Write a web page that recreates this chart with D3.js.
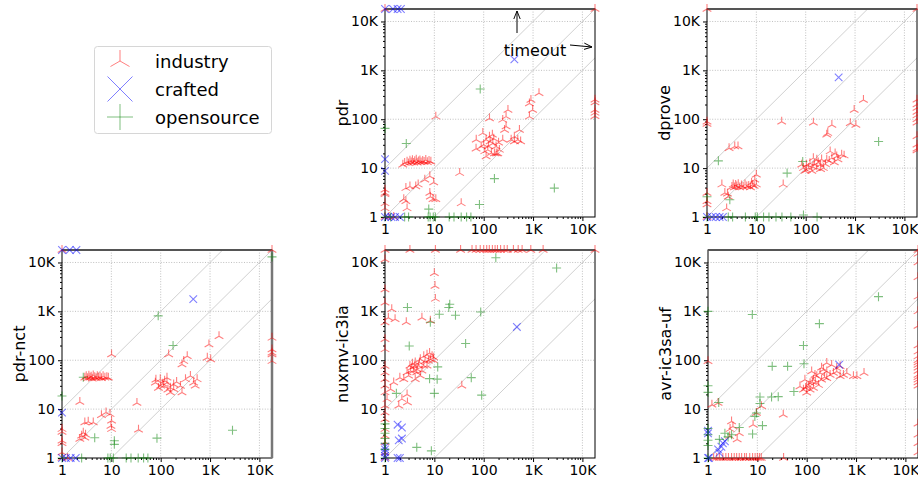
<!DOCTYPE html>
<html lang="en">
  <head>
    <title>solver comparison</title>
    <script type="text/javascript" src="https://d3js.org/d3.v7.min.js"></script>
    <style>
      body { margin: 0; background: #fff; }
      text { font-family: "DejaVu Sans", sans-serif; }
    </style>
  </head>

  <body>
    <div id="my_dataviz"></div>

    <script>
      // timeout value, points that timed out sit on the top / right edge
      const TO = 18000;

      const tickValues = [1, 10, 100, 1000, 10000];
      const tickLabels = ["1", "10", "100", "1K", "10K"];
      const categories = ["industry", "crafted", "opensource"];
      const panelNames = ["pdr", "dprove", "pdr-nct", "nuxmv-ic3ia", "avr-ic3sa-uf"];

      // each point is [x time, y time]
      const pdrIndustry = [[1,TO],[TO,TO],[TO,250],[TO,220],[TO,155],[TO,135],[TO,115],
        [1,3.6],[1,3.1],[1,2.9],[1,1.9],[1,1.5],[1,1],[1.2,1],[1.5,1],
        [2.5,12.8],[2.8,13.5],[3.0,12.5],[3.2,14.2],[3.4,13],[3.6,14.5],[3.8,12.8],[4.0,13.8],[4.3,14.8],[4.5,12.9],
        [4.8,13.6],[5.1,14.3],[5.4,13.1],[5.8,14],[6.2,13.4],[6.7,14.6],[7.2,13.2],[7.8,14],[8.5,13.5],
        [2.3,11.7],[10.7,113],[2.65,3.9],[3.2,4.2],[4.2,4.2],[4.7,4.6],[2.4,2.3],[2.65,2.1],[2.8,1.5],[6.4,5.8],
        [8.1,6.8],[9.7,5.1],[8.1,3.1],[9.4,2.3],[10.7,2.3],[8.3,2.6],[32.6,7.9],[35,1.9],
        [70.6,37.9],[89,27.6],[96,52],[112,38],[131,44],[153,32],[121,23.6],[143,20.3],[112,17.3],[178,27.6],
        [208,23.6],[243,38],[284,71],[243,97],[131,104],[360,38],[418,44],[490,38],[530,60],[284,113],[310,155],
        [845,210],[906,248],[1320,340],[980,155],[845,113],[165,20],[193,20],[70,25],[100,30],[125,28],[150,48],
        [160,40],[200,33],[105,22],[135,35],[265,60],[420,35],[560,35],[180,20]];
      const pdrCrafted = [[418,1680],[1,15.3],[1,8.8],[1,1],[1.15,1],[1.35,1],[1.6,1],[2.0,1],
        [1,TO],[1.45,TO],[1.8,TO],[2.1,TO]];
      const pdrOpen = [[1,65],[2.7,32],[85,416],[165,6.1],[2700,3.9],[82,1.8],[7.7,1.45],[1,1],[1.3,1],[2.5,1],
        [3,1],[7.5,1],[8.2,1],[9.5,1],[10.5,1],[20,1],[25,1],[35,1],[45,1],[55,1]];

      const dproveIndustry = [[1,TO],[TO,TO],[1,89],[1,80],[1,3.1],[1,2.1],[1,1.8],[1,1],
        [TO,250],[TO,200],[TO,170],[TO,140],[TO,120],[TO,100],[TO,85],[TO,45],[TO,30],[TO,25],[TO,23],
        [32.6,89],[143,85],[339,76],[267,48],[280,52],[960,155],[1480,248],[800,83],[1040,76],
        [2.8,25.5],[3.65,27.6],[4.25,27.6],[35,4.6],
        [3.2,4.1],[3.4,4.6],[3.6,4.0],[3.8,4.5],[4.0,4.2],[4.3,4.7],[4.6,4.0],[5.0,4.4],[5.4,4.1],[5.9,4.6],
        [6.4,4.2],[7.0,4.3],[7.6,4.0],[8.3,4.5],[9.0,4.3],[10,4.6],
        [10,7.3],[9.3,5.8],[8,5],[2,4.6],[2.3,3.1],[2.7,2.6],[2.5,1.5],[2.6,3.0],
        [83,11.7],[104,9.2],[122,12.6],[168,14.8],[196,11.7],[228,10],[267,14.8],[339,16],[425,17.3],[535,18.7],
        [97,8.7],[133,8.7],[168,10],[143,16],[313,22],[395,20],[104,11.7],[150,12],[180,13],[210,15],[250,12],
        [300,14],[115,10],[90,10],[140,10.5],[200,9.5],[450,15],[600,18],[380,13]];
      const dproveCrafted = [[465,720],[1,1],[1.25,1],[1.5,1],[1.8,1],[2.1,1]];
      const dproveOpen = [[1.7,14.1],[42,7.9],[87,13.7],[3000,35],[2.9,2.25],[1,2.6],[1,1],[2.7,1],[3.3,1],[6,1],
        [9.5,1],[10.5,1],[14,1],[18,1],[25,1],[33,1],[50,1],[90,1.1],[170,1]];

      const pdrNctIndustry = [[1,TO],[TO,TO],[TO,287],[TO,166],[TO,142],[TO,131],[TO,96],
        [1,3.9],[1,3.4],[1,2.25],[1,2.0],[1,1.3],[1,1],[1.3,1],
        [2.9,44],[3.1,47],[3.3,43],[3.5,48],[3.7,44],[3.9,46],[4.1,42],[4.3,49],[4.6,45],[4.9,43],[5.2,47],
        [5.5,44],[5.9,46],[6.3,43],[6.8,47],[7.4,44],[8.1,45],[8.7,44],
        [10.1,131],[2.3,14],[33,13.3],[35.5,3.8],[7.8,8.5],[9.4,7.9],[10.1,5.8],[10.1,3.9],[9.8,4.5],
        [2.9,5.3],[3.4,5.5],[4.3,5.3],[2.7,3.3],[2.5,2.85],[2.9,2.6],[2.3,2.45],[6.3,7.5],[3.0,3.0],
        [78,34.5],[98,40.6],[115,29.7],[134,34.5],[157,27.5],[183,32],[134,44],[251,29.7],[270,21.8],[318,40.6],
        [400,47.5],[465,34.5],[547,40.6],[270,82],[293,96],[145,131],[345,121],[880,112],[1030,104],[950,210],
        [1520,310],[183,25.5],[157,21.8],[100,30],[120,38],[90,27],[210,36],[140,25],[110,33],[500,30],[80,40]];
      const pdrNctCrafted = [[457,1780],[1,8.5],[1,TO],[1.43,TO],[1.96,TO],[1,1],[1.2,1],[1.5,1],[1.9,1]];
      const pdrNctOpen = [[1,18.6],[2.7,45],[89,810],[178,200],[TO,13000],[4.6,2.6],[84,2.55],[2850,3.7],
        [11.5,2.25],[11.5,1.9],[1,1],[2.5,1],[8.5,1],[9.5,1],[11,1],[20,1],[25,1],[35,1],[45,1],[55,1]];

      const nuxmvIndustry = [[TO,TO],[1,TO],[3.2,TO],[10.5,TO],[34,TO],[58,TO],[70,TO],[85,TO],[100,TO],[115,TO],
        [130,TO],[150,TO],[170,TO],[190,TO],[220,TO],[260,TO],[300,TO],[400,TO],[500,TO],[600,TO],[900,TO],[1600,TO],
        [1,11500],[1,2800],[1,1500],[1,590],[1,270],[1,167],[1,76],[1,56],[1,41],[1,30],[1,22],[1,11.7],[1,8.5],
        [1,6.2],[1,3.9],[1,2.85],[1,2.1],[1,1.3],[1,1],
        [10,6000],[10.3,3300],[10.5,1800],[1.37,1100],[1.17,740],[1.6,690],[2.7,600],[5.6,740],[8.3,640],
        [3.5,70],[4.1,90],[5.2,105],[6.1,120],[7.1,130],[9,120],[9.7,113],[4.8,77],[3.8,61],[3.0,48],[4.4,56],
        [6.1,77],[7.6,97],[5.2,48],[4.1,41],[3.2,77],[2.4,41],[2.0,44],[7.1,77],[8.3,105],[5.6,61],[2.8,56],
        [3.6,85],[4.5,65],[5.0,90],[6.5,95],[8.0,140],[9.5,100],[3.3,60],[4.0,75],
        [1.3,25.6],[1.5,35],[2.8,20],[2.2,16],[2.85,13.6],[1.9,11.7],[1.1,16],[36,30]];
      const nuxmvCrafted = [[470,480],[1.8,4.8],[2.2,4.2],[1.9,2.3],[2.2,2.5],[1.8,1],[2,1],[1,1],[1,1.1],
        [1,1.3],[1,1.5],[1,1.7]];
      const nuxmvOpen = [[176,12500],[3000,7700],[2.85,1200],[20.5,1400],[19.6,1200],[12.6,870],[26.8,830],
        [87,970],[8.3,600],[3.1,195],[43,220],[56,44],[91,19.3],[11.7,73],[11.4,41],[8,42],[10,21],[1.7,21],
        [4.4,1.65],[8.7,1.4],[1,1.5],[1,2],[1,2.5],[1,3.2],[1,4],[1,5],[1,1]];

      const avrIndustry = [[TO,1.3],[TO,2],[TO,3],[TO,5],[TO,30],[TO,35],[TO,40],[TO,45],[TO,50],[TO,60],[TO,70],
        [TO,80],[TO,90],[TO,100],[TO,120],[TO,150],[TO,200],[TO,500],[TO,1000],[TO,2000],[TO,5000],[TO,10000],
        [TO,15000],[TO,TO],
        [1.3,1],[1.5,1],[1.7,1],[2,1],[2.3,1],[2.6,1],[3,1],[3.4,1],[3.8,1],[4.3,1],[4.8,1],[5.5,1],[6,1],[7,1],
        [8,1],[9,1],[10,1],[11,1],[12,1],[34,1],
        [1,95],[1.2,12.3],[1.6,13.3],[3,5.6],[3.2,4.4],[4.3,3.2],[3.9,2.4],[2.75,2.8],[2.8,3.9],[33.5,7.7],
        [12.1,11.4],[8.2,4.8],[9.6,8.3],
        [86,25],[100,29],[117,34],[137,40],[160,47],[187,55],[218,64],[255,59],[298,50],[348,55],[406,69],
        [475,75],[555,50],[650,55],[885,47],[1040,47],[1450,55],[255,88],[200,70],[117,25],[137,27],[174,31],
        [92,40],[126,59],[147,50],[100,21.6],[73,29],[255,43],[406,59],[475,47],[320,80],[110,30],[150,35],
        [200,40],[230,45],[130,36],[95,27]];
      const avrCrafted = [[455,81],[1,3.6],[1,3.2],[1.87,1.7],[2.2,2.2],[1.6,1.5],[1.7,1.27],[2.0,2.0],[1,1],[1.05,1]];
      const avrOpen = [[1,1000],[7.9,860],[181,560],[2850,2000],[86,200],[88,85],[20,75],[41,75],[55,23],
        [19.4,17.7],[26.5,18],[11.3,17.7],[11.3,13],[9.6,8.3],[8.9,7.1],[8,3.1],[12.7,4.6],[4.3,4.2],[3,3],
        [2.2,3.2],[1.7,2.4],[2.55,2.7],[1.65,13.7],[1,30],[1,22],[1,4],[1,3],[1,2.3],[1,1.8],[1,1]];

      const panelData = [
        [pdrIndustry, pdrCrafted, pdrOpen],
        [dproveIndustry, dproveCrafted, dproveOpen],
        [pdrNctIndustry, pdrNctCrafted, pdrNctOpen],
        [nuxmvIndustry, nuxmvCrafted, nuxmvOpen],
        [avrIndustry, avrCrafted, avrOpen]
      ];

      // layout
      const W = 210, H = 208;
      const panelPos = [[385, 9], [707, 9], [62, 250], [385, 250], [708, 250]];
      const colors = ["#ff0000", "#0000ff", "#008000"];

      // marker shapes (tri_up, x, +), s = size
      function markerPath(kind, s) {
        if (kind === 0) {
          let a = s * 0.866, b = s * 0.5;
          return "M0,0L0," + (-s) + "M0,0L" + (-a) + "," + b + "M0,0L" + a + "," + b;
        } else if (kind === 1) {
          return "M" + (-s) + "," + (-s) + "L" + s + "," + s + "M" + (-s) + "," + s + "L" + s + "," + (-s);
        }
        return "M" + (-s) + ",0L" + s + ",0M0," + (-s) + "L0," + s;
      }
      const markerSize = [5, 3.8, 4.5];

      let svg = d3.select("#my_dataviz")
        .append("svg")
          .attr("width", 918)
          .attr("height", 482);

      let minorTicks = [];
      for (let d = 1; d <= 10000; d *= 10) {
        for (let m = 2; m <= 9; m++) {
          if (d * m < TO) minorTicks.push(d * m);
        }
      }

      panelNames.forEach(function(name, i) {
        let g = svg.append("g")
          .attr("transform", "translate(" + panelPos[i][0] + "," + panelPos[i][1] + ")");

        let x = d3.scaleLog().domain([1, TO]).range([0, W]);
        let y = d3.scaleLog().domain([1, TO]).range([H, 0]);

        // grid
        g.append("g").selectAll("line.gx")
          .data(tickValues.slice(1))
          .enter().append("line")
            .attr("x1", d => x(d)).attr("x2", d => x(d))
            .attr("y1", 0).attr("y2", H)
            .attr("stroke", "#b0b0b0").attr("stroke-width", 0.8)
            .attr("stroke-dasharray", "1,1.6");
        g.append("g").selectAll("line.gy")
          .data(tickValues.slice(1))
          .enter().append("line")
            .attr("y1", d => y(d)).attr("y2", d => y(d))
            .attr("x1", 0).attr("x2", W)
            .attr("stroke", "#b0b0b0").attr("stroke-width", 0.8)
            .attr("stroke-dasharray", "1,1.6");

        // diagonals y = x/10, x, 10x
        [0.1, 1, 10].forEach(function(k) {
          let x0 = Math.max(1, 1 / k), x1 = Math.min(TO, TO / k);
          g.append("line")
            .attr("x1", x(x0)).attr("y1", y(x0 * k))
            .attr("x2", x(x1)).attr("y2", y(x1 * k))
            .attr("stroke", "#d0d0d0").attr("stroke-width", 1);
        });

        // axes
        g.append("g")
          .attr("transform", "translate(0," + H + ")")
          .call(d3.axisBottom(x).tickValues(tickValues)
            .tickFormat((d, j) => tickLabels[j]).tickSize(4).tickSizeOuter(0));
        g.append("g")
          .call(d3.axisLeft(y).tickValues(tickValues)
            .tickFormat((d, j) => tickLabels[j]).tickSize(4).tickSizeOuter(0));
        g.append("g")
          .attr("transform", "translate(0," + H + ")")
          .call(d3.axisBottom(x).tickValues(minorTicks).tickFormat("").tickSize(2).tickSizeOuter(0));
        g.append("g")
          .call(d3.axisLeft(y).tickValues(minorTicks).tickFormat("").tickSize(2).tickSizeOuter(0));
        g.selectAll(".domain").remove();
        g.selectAll(".tick text")
          .style("font-family", "DejaVu Sans")
          .style("font-size", "14px")
          .attr("fill", "#000");
        g.selectAll(".tick line").attr("stroke", "#000");

        // frame, top edge drawn as the timeout line
        g.append("rect")
          .attr("width", W).attr("height", H)
          .attr("fill", "none").attr("stroke", "#000").attr("stroke-width", 1);
        g.append("line")
          .attr("x1", 0).attr("x2", W).attr("y1", 0).attr("y2", 0)
          .attr("stroke", "#555").attr("stroke-width", 2);
        if (name === "pdr-nct") {
          g.append("line")
            .attr("x1", W).attr("x2", W).attr("y1", 0).attr("y2", H)
            .attr("stroke", "#777").attr("stroke-width", 2.5);
        }

        // y label
        g.append("text")
          .attr("transform", "translate(-43," + (H / 2) + ") rotate(-90)")
          .attr("text-anchor", "middle")
          .attr("dominant-baseline", "central")
          .style("font-size", "16px")
          .text(name);

        // points
        panelData[i].forEach(function(pts, c) {
          g.append("g").selectAll("path")
            .data(pts)
            .enter().append("path")
              .attr("transform", d => "translate(" + x(d[0]) + "," + y(d[1]) + ")")
              .attr("d", markerPath(c, markerSize[c]))
              .attr("fill", "none")
              .attr("stroke", colors[c])
              .attr("stroke-opacity", 0.5)
              .attr("stroke-width", 1.1);
        });

        if (name === "pdr") {
          let defs = svg.append("defs");
          defs.append("marker")
            .attr("id", "arr").attr("viewBox", "0 0 10 10")
            .attr("refX", 10).attr("refY", 5)
            .attr("markerWidth", 8).attr("markerHeight", 8)
            .attr("markerUnits", "userSpaceOnUse")
            .attr("orient", "auto")
            .append("path").attr("d", "M0,1L10,5L0,9")
            .attr("fill", "none").attr("stroke", "#000").attr("stroke-width", 1.2);
          g.append("text")
            .attr("x", 150).attr("y", 47)
            .attr("text-anchor", "middle")
            .style("font-size", "16px")
            .text("timeout");
          g.append("line")
            .attr("x1", 132).attr("y1", 24).attr("x2", 132).attr("y2", 2)
            .attr("stroke", "#000").attr("stroke-width", 1).attr("marker-end", "url(#arr)");
          g.append("line")
            .attr("x1", 185).attr("y1", 36).attr("x2", 207).attr("y2", 38)
            .attr("stroke", "#000").attr("stroke-width", 1).attr("marker-end", "url(#arr)");
        }
      });

      // legend
      let legend = svg.append("g");
      legend.append("rect")
        .attr("x", 94.5).attr("y", 46.5).attr("width", 177).attr("height", 87)
        .attr("rx", 3)
        .attr("fill", "#fff").attr("stroke", "#d6d6d6").attr("stroke-width", 1);
      const legendSize = [11, 12.5, 13];
      categories.forEach(function(cat, c) {
        let ly = 61 + c * 28;
        legend.append("path")
          .attr("transform", "translate(120," + ly + ")")
          .attr("d", markerPath(c, legendSize[c]))
          .attr("fill", "none")
          .attr("stroke", colors[c])
          .attr("stroke-opacity", 0.5)
          .attr("stroke-width", 1);
        legend.append("text")
          .attr("x", 155).attr("y", ly)
          .attr("dominant-baseline", "central")
          .style("font-size", "18px")
          .text(cat);
      });
    </script>

  </body>
</html>
